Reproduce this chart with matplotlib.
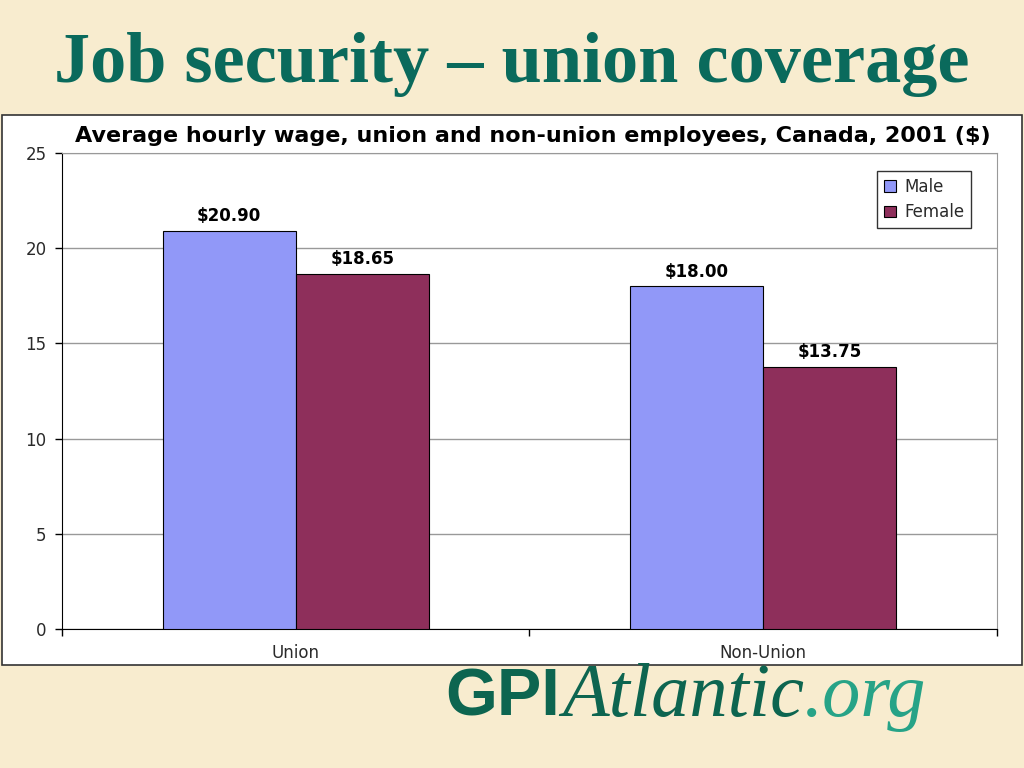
import numpy as np
import matplotlib
matplotlib.use("Agg")
import matplotlib.pyplot as plt
from matplotlib.patches import Rectangle

plt.rcParams["font.family"] = ["DejaVu Sans"]

categories = ["Union", "Non-Union"]
male = [20.90, 18.00]
female = [18.65, 13.75]
series_names = ["Male", "Female"]
slide_title = "Job security \u2013 union coverage"
chart_title = "Average hourly wage, union and non-union employees, Canada, 2001 ($)"

bg = "#F8ECCF"
teal = "#0A6A5C"
male_color = "#9198F8"
female_color = "#8E2F5B"

fig = plt.figure(figsize=(10.24, 7.68), dpi=100, facecolor=bg)

# white chart box
fig.patches.append(Rectangle((0.002, 0.1341), 0.9961, 0.7161, transform=fig.transFigure,
                             facecolor="white", edgecolor="#333333", linewidth=1.2, zorder=-5))

ax = fig.add_axes([0.0605, 0.18099, 0.9131, 0.6198])
ax.set_facecolor("white")

x = np.arange(len(categories))
w = 0.2845
b1 = ax.bar(x - w / 2, male, w, color=male_color, edgecolor="black", linewidth=0.8,
            label=series_names[0], zorder=3)
b2 = ax.bar(x + w / 2, female, w, color=female_color, edgecolor="black", linewidth=0.8,
            label=series_names[1], zorder=3)

for bars, vals in [(b1, male), (b2, female)]:
    for r, v in zip(bars, vals):
        ax.text(r.get_x() + r.get_width() / 2, v + 0.3, f"${v:.2f}", ha="center", va="bottom",
                fontsize=12, fontweight="bold", family="DejaVu Sans")

ax.set_xlim(-0.5, 1.5)
ax.set_ylim(0, 25)
ax.set_yticks([0, 5, 10, 15, 20, 25])
ax.yaxis.grid(True, color="#999999", linewidth=1, zorder=0)
ax.set_axisbelow(True)

# excel-style ticks between categories
ax.set_xticks([-0.5, 0.5, 1.5])
ax.set_xticklabels([])
ax.set_xticks(x, minor=True)
ax.set_xticklabels(categories, minor=True)
ax.tick_params(axis="x", which="minor", length=0, pad=11, labelsize=12)
ax.tick_params(axis="x", which="major", length=5, direction="out", width=1)
ax.tick_params(axis="y", length=5, direction="out", width=1, labelsize=12, pad=6)
for lab in ax.get_xticklabels(minor=True) + ax.get_yticklabels():
    lab.set_color("#2a2a2a")
    lab.set_family("DejaVu Sans")

ax.spines["left"].set_color("black")
ax.spines["bottom"].set_color("black")
ax.spines["top"].set_color("#999999")
ax.spines["right"].set_color("#999999")

leg = ax.legend(loc="upper right", bbox_to_anchor=(0.972, 0.962), borderaxespad=0,
                fancybox=False, edgecolor="black", fontsize=12, handlelength=0.7,
                handleheight=0.7, handletextpad=0.5, borderpad=0.4, labelspacing=0.45)
leg.get_frame().set_linewidth(1)
for t in leg.get_texts():
    t.set_color("#2a2a2a")
    t.set_family("DejaVu Sans")

fig.text(0.52, 0.8229, chart_title, ha="center", va="center", fontsize=16,
         fontweight="bold", family="DejaVu Sans")

fig.text(0.5, 0.893, slide_title, ha="center", va="baseline", fontsize=52,
         fontweight="bold", family="Liberation Serif", color=teal)

# logo text pieces laid out side by side
renderer = fig.canvas.get_renderer()
t1 = fig.text(445 / 1024, 1 - 716 / 768, "GPI", ha="left", va="baseline", fontsize=48,
              fontweight="bold", family="Liberation Sans", color="#0D6550")
ext = t1.get_window_extent(renderer)
t2 = fig.text(ext.x1 / 1024 + 0.002, 1 - 716 / 768, "Atlantic", ha="left", va="baseline",
              fontsize=55, style="italic", family="Liberation Serif", color="#0D6550")
ext = t2.get_window_extent(renderer)
fig.text(ext.x1 / 1024, 1 - 716 / 768, ".org", ha="left", va="baseline",
         fontsize=55, style="italic", family="Liberation Serif", color="#27A387")

fig.savefig("out.png", dpi=100, facecolor=bg)
